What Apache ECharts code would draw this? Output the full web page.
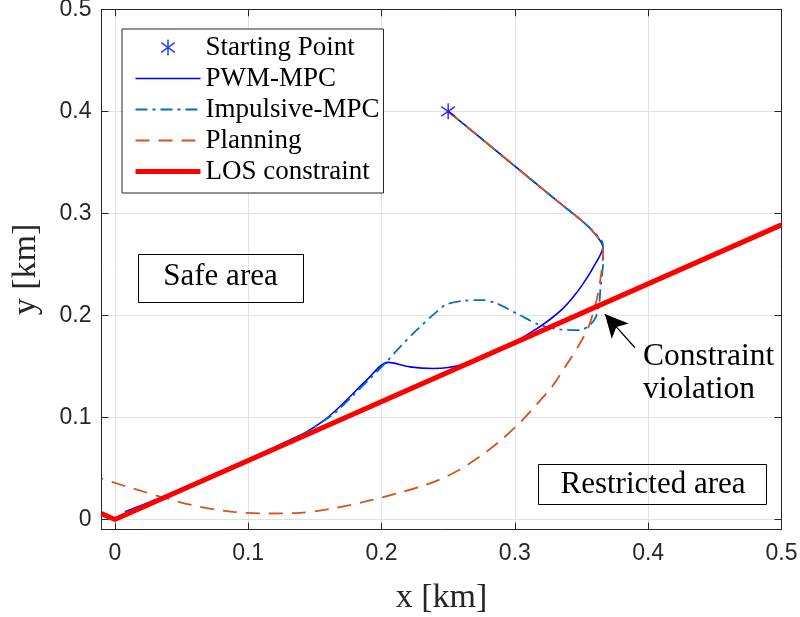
<!DOCTYPE html>
<html>
<head>
<meta charset="utf-8">
<script src="https://cdn.jsdelivr.net/npm/echarts@6/dist/echarts.min.js"></script>
<style>
html,body{margin:0;padding:0;background:#fff;}
#chart{width:800px;height:617px;}
</style>
</head>
<body>
<div id="chart"></div>
<script>
// ---------- data ----------
const xTicks = [0, 0.1, 0.2, 0.3, 0.4, 0.5];
const yTicks = [0, 0.1, 0.2, 0.3, 0.4, 0.5];

const startX = [0.25];
const startY = [0.4];

const pwmX = [0.25, 0.29, 0.331, 0.350, 0.360, 0.366, 0.3585, 0.3510, 0.3435, 0.3360, 0.3263, 0.3165, 0.3060, 0.2963, 0.280, 0.2637, 0.250, 0.2387, 0.2213, 0.205, 0.1888, 0.1738, 0.1588, 0.1438, 0.131, 0.100, 0.070, 0.030, 0.0075];
const pwmY = [0.400, 0.357, 0.313, 0.293, 0.280, 0.267, 0.2464, 0.2307, 0.2175, 0.2067, 0.1960, 0.1870, 0.1785, 0.1711, 0.1625, 0.153, 0.149, 0.148, 0.1496, 0.154, 0.1366, 0.117, 0.099, 0.0859, 0.0777, 0.059, 0.042, 0.019, 0.0075];

const impX = [0.25, 0.29, 0.331, 0.350, 0.360, 0.366, 0.3663, 0.3643, 0.3633, 0.3608, 0.3563, 0.3488, 0.3338, 0.3188, 0.3038, 0.2863, 0.2763, 0.2612, 0.2488, 0.2413, 0.2263, 0.2138, 0.2038, 0.1913, 0.1787, 0.1637, 0.1463, 0.1363, 0.100, 0.070, 0.030, 0.0075];
const impY = [0.400, 0.357, 0.313, 0.293, 0.281, 0.270, 0.254, 0.228, 0.212, 0.1986, 0.1905, 0.1856, 0.1863, 0.1905, 0.2003, 0.2118, 0.2150, 0.2143, 0.2108, 0.2035, 0.1856, 0.1690, 0.1545, 0.1380, 0.1215, 0.1030, 0.0880, 0.0800, 0.059, 0.0415, 0.0185, 0.007];

const planX = [0.25, 0.29, 0.331, 0.350, 0.360, 0.3662, 0.3659, 0.3641, 0.3613, 0.3553, 0.3473, 0.3378, 0.3278, 0.3137, 0.3038, 0.2888, 0.2738, 0.2588, 0.2438, 0.2288, 0.2138, 0.1888, 0.1637, 0.1388, 0.1138, 0.0887, 0.0638, 0.0388, 0.0137, -0.01];
const planY = [0.400, 0.357, 0.313, 0.293, 0.280, 0.267, 0.2542, 0.2346, 0.2150, 0.1888, 0.1692, 0.1496, 0.1300, 0.1090, 0.0948, 0.0769, 0.0617, 0.0490, 0.0392, 0.0320, 0.0263, 0.0179, 0.0108, 0.0065, 0.0059, 0.0075, 0.0124, 0.0206, 0.0304, 0.0400];

const losX = [-0.01, 0, 0.5];
const losY = [0.00577, 0, 0.2887];

const arrowTail = [0.39, 0.1686];
const arrowTip = [0.3675, 0.2013];

const zip = (xs, ys) => xs.map((x, i) => [x, ys[i]]);

// ---------- chart ----------
const chart = echarts.init(document.getElementById('chart'), null, {renderer: 'canvas'});
const AX = '#262626';
const serif = '"Liberation Serif", "Times New Roman", serif';
const sans = '"Liberation Sans", Arial, Helvetica, sans-serif';
const tickFmt = v => (Math.abs(v) < 1e-9 ? '0' : String(+v.toFixed(2)));

function mainAxis(isX) {
  const ticks = isX ? xTicks : yTicks;
  return {
    type: 'value', min: -0.01, max: 0.5,
    position: isX ? 'bottom' : 'left',
    axisLine: {show: true, onZero: false, lineStyle: {color: AX, width: 1}},
    axisTick: {show: true, inside: true, length: 7, customValues: ticks, lineStyle: {color: AX, width: 1}},
    axisLabel: {show: true, customValues: ticks, formatter: tickFmt, color: AX, fontFamily: sans, fontSize: 23, margin: isX ? 12 : 10},
    splitLine: {show: true, lineStyle: {color: '#e2e2e2', width: 1}},
    name: isX ? 'x [km]' : 'y [km]',
    nameLocation: 'middle',
    nameGap: isX ? 51 : 58,
    nameMoveOverlap: false,
    nameTextStyle: {fontFamily: serif, fontSize: 34, color: AX}
  };
}
function boxAxis(isX) {
  const ticks = isX ? xTicks : yTicks;
  return {
    type: 'value', min: -0.01, max: 0.5,
    position: isX ? 'top' : 'right',
    axisLine: {show: true, onZero: false, lineStyle: {color: AX, width: 1}},
    axisTick: {show: true, inside: true, length: 7, customValues: ticks, lineStyle: {color: AX, width: 1}},
    axisLabel: {show: false},
    splitLine: {show: false}
  };
}

const hideDot = {opacity: 0};

const option = {
  animation: false,
  backgroundColor: '#ffffff',
  grid: {left: 101.5, right: 18.5, top: 9.3, bottom: 87.3, containLabel: false, outerBoundsMode: 'none'},
  xAxis: [mainAxis(true), boxAxis(true)],
  yAxis: [mainAxis(false), boxAxis(false)],
  legend: {
    orient: 'vertical', left: 122, top: 29,
    itemWidth: 65, itemHeight: 16, itemGap: 4,
    padding: [5, 4, 8, 11],
    backgroundColor: '#ffffff', borderColor: AX, borderWidth: 1, borderRadius: 0,
    symbolKeepAspect: true,
    textStyle: {fontFamily: serif, fontSize: 27, color: '#000000', lineHeight: 26},
    lineStyle: {width: 'inherit'},
    itemStyle: {borderWidth: 'inherit'},
    selectedMode: false,
    data: [
      {name: 'Starting Point'},
      {name: 'PWM-MPC', itemStyle: hideDot},
      {name: 'Impulsive-MPC', itemStyle: hideDot},
      {name: 'Planning', itemStyle: hideDot},
      {name: 'LOS constraint', itemStyle: hideDot}
    ]
  },
  series: [
    {
      name: 'PWM-MPC', type: 'line', data: zip(pwmX, pwmY), symbol: 'none', z: 2, smooth: 0.3,
      lineStyle: {color: '#0000ff', width: 1.6}, itemStyle: {color: '#0000ff'}
    },
    {
      name: 'Impulsive-MPC', type: 'line', data: zip(impX, impY), symbol: 'none', z: 3, smooth: 0.3,
      lineStyle: {color: '#0072BD', width: 1.8, type: [12, 5, 3, 5]}, itemStyle: {color: '#0072BD'}
    },
    {
      name: 'Planning', type: 'line', data: zip(planX, planY), symbol: 'none', z: 4, smooth: 0.3,
      lineStyle: {color: '#D95319', width: 1.8, type: [14, 9]}, itemStyle: {color: '#D95319'},
      markLine: {
        silent: true, animation: false, symbol: ['none', 'arrow'],
        label: {show: false},
        lineStyle: {color: '#000000', width: 1.3, type: 'solid'},
        data: [[
          {coord: arrowTail, symbol: 'none'},
          {coord: arrowTip, symbol: 'arrow', symbolSize: [17, 23]}
        ]]
      }
    },
    {
      name: 'LOS constraint', type: 'line', data: zip(losX, losY), symbol: 'none', z: 5,
      lineStyle: {color: '#ff0000', width: 5}, itemStyle: {color: '#ff0000'}
    },
    {
      name: 'Starting Point', type: 'scatter', data: zip(startX, startY), z: 10,
      symbol: 'path://M0,-1L0,1M-0.85,-0.6L0.85,0.6M-0.85,0.6L0.85,-0.6',
      symbolSize: 16, symbolKeepAspect: true,
      itemStyle: {color: '#0000ff', borderColor: '#0000ff', borderWidth: 1.5}
    }
  ],
  graphic: [
    {type: 'rect', shape: {x: 138.5, y: 254.5, width: 165, height: 48}, style: {fill: 'none', stroke: '#000', lineWidth: 1}, z: 20},
    {type: 'text', x: 220.5, y: 277, style: {text: 'Safe area', font: '31px ' + serif, fill: '#000', align: 'center', verticalAlign: 'middle'}, z: 21},
    {type: 'rect', shape: {x: 538.5, y: 464.5, width: 228, height: 40}, style: {fill: 'none', stroke: '#000', lineWidth: 1}, z: 20},
    {type: 'text', x: 653, y: 484.5, style: {text: 'Restricted area', font: '31px ' + serif, fill: '#000', align: 'center', verticalAlign: 'middle'}, z: 21},
    {type: 'text', x: 643, y: 373.5, style: {text: 'Constraint\nviolation', font: '31.5px ' + serif, lineHeight: 33.4, fill: '#000', align: 'left', verticalAlign: 'middle'}, z: 21}
  ]
};
chart.setOption(option);
</script>
</body>
</html>
